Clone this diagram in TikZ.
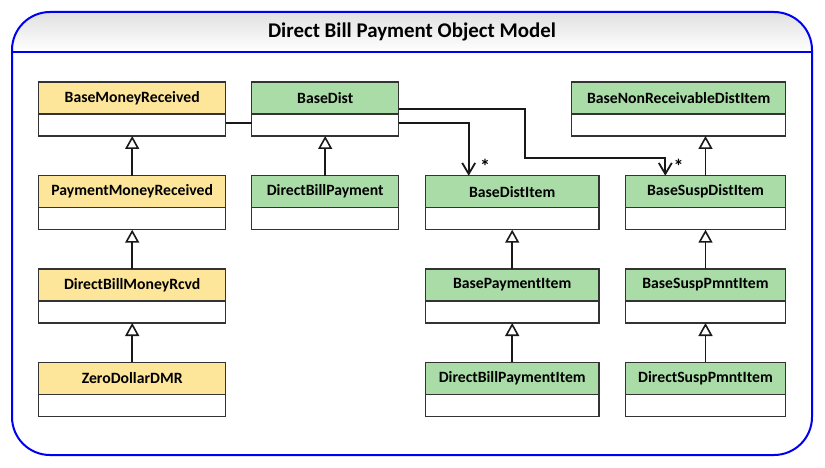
\documentclass[tikz,border=0pt]{standalone}
\usepackage{fontspec}
\setmainfont{Carlito}
\usetikzlibrary{arrows.meta}
\definecolor{ylw}{HTML}{FDE69A}
\definecolor{grn}{HTML}{AADCA8}
\definecolor{edgec}{HTML}{333333}
\definecolor{framec}{HTML}{0000F0}
\begin{document}
\begin{tikzpicture}[x=1pt,y=-1pt,
  hdr/.style={draw=edgec,line width=1.5pt,minimum height=32pt,inner sep=0pt,outer sep=0pt,
    anchor=north,font=\bfseries\fontsize{15.7}{18}\selectfont},
  yhdr/.style={hdr,fill=ylw},
  ghdr/.style={hdr,fill=grn},
  bdy/.style={draw=edgec,line width=1.5pt,fill=white,minimum height=22pt,inner sep=0pt,outer sep=0pt,anchor=north},
  wl/.style={minimum width=187pt},
  wbd/.style={minimum width=147pt},
  wdi/.style={minimum width=173.7pt},
  wsd/.style={minimum width=160.4pt},
  wnr/.style={minimum width=214pt},
  conn/.style={draw=black!90,line width=1.8pt},
  inh/.style={conn,-{Triangle[open,length=13pt,width=14pt,line width=1.6pt]}},
  assoc/.style={conn,-{Straight Barb[length=11pt,width=13pt,line width=1.8pt]}},
  star/.style={font=\bfseries\fontsize{20}{22}\selectfont,inner sep=0pt}]
\useasboundingbox (0,0) rectangle (825,468);
% frame with title band
\begin{scope}
  \clip[rounded corners=38pt] (12,12) rectangle (812,455);
  \shade[top color=black!12,bottom color=white] (12,12) rectangle (812,52);
\end{scope}
\draw[framec,line width=1.6pt] (12,52) -- (812,52);
\draw[framec,line width=2pt,rounded corners=38pt] (12,12) rectangle (812,455);
\node[font=\bfseries\fontsize{20.9}{24}\selectfont,inner sep=0pt] (title) at (412,32) {Direct Bill Payment Object Model};
% left column
\node[yhdr,wl] (BMR) at (132.2,82) {BaseMoneyReceived};
\node[bdy,wl] (BMRb) at (BMR.south) {};
\node[yhdr,wl] (PMR) at (132.2,175.7) {PaymentMoneyReceived};
\node[bdy,wl] (PMRb) at (PMR.south) {};
\node[yhdr,wl] (DBMR) at (132.2,269) {DirectBillMoneyRcvd};
\node[bdy,wl] (DBMRb) at (DBMR.south) {};
\node[yhdr,wl] (ZDD) at (132.2,362.3) {ZeroDollarDMR};
\node[bdy,wl] (ZDDb) at (ZDD.south) {};
% BaseDist column
\node[ghdr,wbd] (BD) at (325.2,82) {BaseDist};
\node[bdy,wbd] (BDb) at (BD.south) {};
\node[ghdr,wbd] (DBP) at (325.2,175.7) {DirectBillPayment};
\node[bdy,wbd] (DBPb) at (DBP.south) {};
% BaseDistItem column
\node[ghdr,wdi] (BDI) at (512.2,175.7) {BaseDistItem};
\node[bdy,wdi] (BDIb) at (BDI.south) {};
\node[ghdr,wdi] (BPI) at (512.2,269) {BasePaymentItem};
\node[bdy,wdi] (BPIb) at (BPI.south) {};
\node[ghdr,wdi] (DBPI) at (512.2,362.3) {DirectBillPaymentItem};
\node[bdy,wdi] (DBPIb) at (DBPI.south) {};
% right column
\node[ghdr,wnr] (BNR) at (678.7,82) {BaseNonReceivableDistItem};
\node[bdy,wnr] (BNRb) at (BNR.south) {};
\node[ghdr,wsd] (BSDI) at (705.5,175.7) {BaseSuspDistItem};
\node[bdy,wsd] (BSDIb) at (BSDI.south) {};
\node[ghdr,wsd] (BSPI) at (705.5,269) {BaseSuspPmntItem};
\node[bdy,wsd] (BSPIb) at (BSPI.south) {};
\node[ghdr,wsd] (DSPI) at (705.5,362.3) {DirectSuspPmntItem};
\node[bdy,wsd] (DSPIb) at (DSPI.south) {};
% inheritance
\draw[inh] (PMR.north) -- (BMRb.south);
\draw[inh] (DBMR.north) -- (PMRb.south);
\draw[inh] (ZDD.north) -- (DBMRb.south);
\draw[inh] (DBP.north) -- (BDb.south);
\draw[inh] (BPI.north) -- (BDIb.south);
\draw[inh] (DBPI.north) -- (BPIb.south);
\draw[inh] (BSPI.north) -- (BSDIb.south);
\draw[inh] (DSPI.north) -- (BSPIb.south);
\draw[inh] (BSDI.north) -- (BSDI.north |- BNRb.south);
% associations
\coordinate (a1) at ([yshift=-8.7pt]BMRb.north east);
\draw[conn] (a1) -- (a1 -| BDb.west);
\draw[assoc] ([yshift=-8.7pt]BDb.north east) -| ([xshift=-43.5pt]BDI.north);
\coordinate (bend) at (524.7,157.7);
\draw[assoc] ([yshift=-27pt]BD.north east) -| (bend) -| ([xshift=-40.2pt]BSDI.north);
\node[star] (s1) at (485,166) {*};
\node[star] (s2) at (678.7,166) {*};
\end{tikzpicture}
\end{document}
